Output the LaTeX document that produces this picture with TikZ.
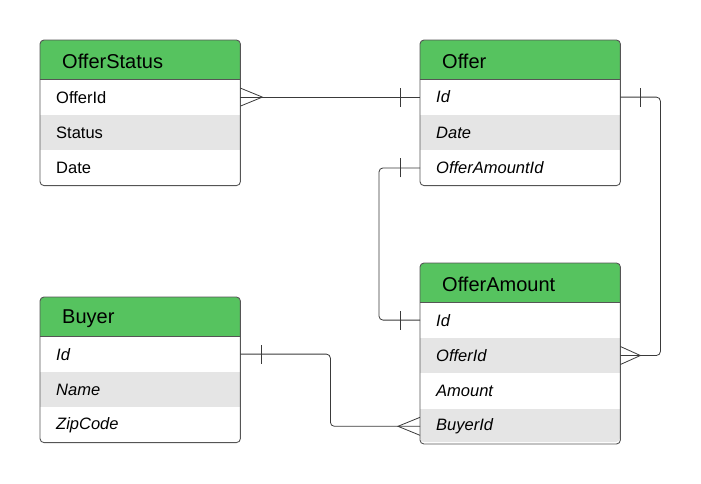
\documentclass[tikz,border=0pt]{standalone}
\usepackage{fontspec}
\setmainfont{Liberation Sans}
\usetikzlibrary{positioning}
\definecolor{headgreen}{HTML}{56C35F}
\definecolor{rowgray}{HTML}{E5E5E5}
\definecolor{edgegray}{HTML}{555555}
\definecolor{linkgray}{HTML}{3A3A3A}
\tikzset{
  tablehead/.style={fill=headgreen, font=\fontsize{20}{24}\selectfont, minimum width=200pt, minimum height=39pt,
    text width=156pt, text height=18pt, inner xsep=22pt, inner ysep=0pt, align=left, anchor=north west},
  tablerow/.style={font=\fontsize{16.5}{20}\selectfont, minimum width=200pt, minimum height=35pt,
    text width=168pt, inner xsep=16pt, inner ysep=0pt, align=left},
  shaded/.style={fill=rowgray},
  tableborder/.style={draw=edgegray, line width=0.9pt, rounded corners=4pt},
  link/.style={draw=linkgray, line width=0.8pt, rounded corners=4pt},
  mark line/.style={draw=linkgray, line width=0.8pt}
}
\begin{document}
\begin{tikzpicture}[x=1pt, y=-1pt]
  \useasboundingbox (0,0) rectangle (701,483);

  % OfferStatus
  \begin{scope}
    \clip[rounded corners=4pt] (40,40) rectangle (240,184);
    \node[tablehead] (statushead) at (40,40) {OfferStatus};
    \node[tablerow, below=0pt of statushead] (statusoffer) {OfferId};
    \node[tablerow, shaded, below=0pt of statusoffer] (statusstatus) {Status};
    \node[tablerow, below=0pt of statusstatus] (statusdate) {Date};
  \end{scope}
  \draw[tableborder] (statushead.north west) rectangle (statusdate.south east);
  \draw[edgegray, line width=0.6pt] (statushead.south west) -- (statushead.south east);

  % Offer
  \begin{scope}
    \clip[rounded corners=4pt] (420,40) rectangle (620,184);
    \node[tablehead] (offerhead) at (420,40) {Offer};
    \node[tablerow, below=0pt of offerhead] (offerid) {\itshape Id};
    \node[tablerow, shaded, below=0pt of offerid] (offerdate) {\itshape Date};
    \node[tablerow, below=0pt of offerdate] (offeramount) {\itshape OfferAmountId};
  \end{scope}
  \draw[tableborder] (offerhead.north west) rectangle (offeramount.south east);
  \draw[edgegray, line width=0.6pt] (offerhead.south west) -- (offerhead.south east);

  % OfferAmount
  \begin{scope}
    \clip[rounded corners=4pt] (420,263) rectangle (620,442);
    \node[tablehead] (amounthead) at (420,263) {OfferAmount};
    \node[tablerow, below=0pt of amounthead] (amountid) {\itshape Id};
    \node[tablerow, shaded, below=0pt of amountid] (amountoffer) {\itshape OfferId};
    \node[tablerow, below=0pt of amountoffer] (amountvalue) {\itshape Amount};
    \node[tablerow, shaded, below=0pt of amountvalue] (amountbuyer) {\itshape BuyerId};
  \end{scope}
  \draw[tableborder] (amounthead.north west) rectangle (amountbuyer.south east);
  \draw[edgegray, line width=0.6pt] (amounthead.south west) -- (amounthead.south east);

  % Buyer
  \begin{scope}
    \clip[rounded corners=4pt] (40,297) rectangle (240,441);
    \node[tablehead] (buyerhead) at (40,297) {Buyer};
    \node[tablerow, below=0pt of buyerhead] (buyerid) {\itshape Id};
    \node[tablerow, shaded, below=0pt of buyerid] (buyername) {\itshape Name};
    \node[tablerow, below=0pt of buyername] (buyerzip) {\itshape ZipCode};
  \end{scope}
  \draw[tableborder] (buyerhead.north west) rectangle (buyerzip.south east);
  \draw[edgegray, line width=0.6pt] (buyerhead.south west) -- (buyerhead.south east);

  % relations
  \draw[link] (statusoffer.east) -- (offerid.west);
  \draw[mark line] ([yshift=-9pt]statusoffer.east) -- ([xshift=22pt]statusoffer.east) -- ([yshift=9pt]statusoffer.east);
  \draw[mark line] ([xshift=-20pt, yshift=-9.5pt]offerid.west) -- ([xshift=-20pt, yshift=9.5pt]offerid.west);

  \draw[link] (offeramount.west) -- ++(-41,0) |- (amountid.west);
  \draw[mark line] ([xshift=-20pt, yshift=-9.5pt]offeramount.west) -- ([xshift=-20pt, yshift=9.5pt]offeramount.west);
  \draw[mark line] ([xshift=-20pt, yshift=-9.5pt]amountid.west) -- ([xshift=-20pt, yshift=9.5pt]amountid.west);

  \draw[link] (offerid.east) -- ++(40,0) |- (amountoffer.east);
  \draw[mark line] ([xshift=20pt, yshift=-9.5pt]offerid.east) -- ([xshift=20pt, yshift=9.5pt]offerid.east);
  \draw[mark line] ([yshift=-9pt]amountoffer.east) -- ([xshift=20pt]amountoffer.east) -- ([yshift=9pt]amountoffer.east);

  \draw[link] (buyerid.east) -- ++(90,0) |- (amountbuyer.west);
  \draw[mark line] ([xshift=21pt, yshift=-9.5pt]buyerid.east) -- ([xshift=21pt, yshift=9.5pt]buyerid.east);
  \draw[mark line] ([yshift=-9pt]amountbuyer.west) -- ([xshift=-22pt]amountbuyer.west) -- ([yshift=9pt]amountbuyer.west);
\end{tikzpicture}
\end{document}
